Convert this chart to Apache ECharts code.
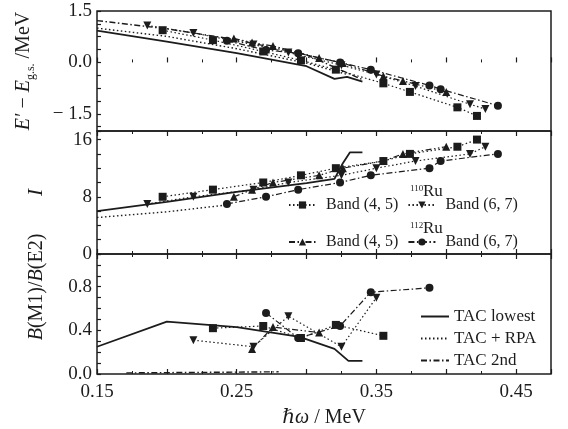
<!DOCTYPE html>
<html>
<head>
<meta charset="utf-8">
<script src="https://cdn.jsdelivr.net/npm/echarts@6/dist/echarts.min.js"></script>
<style>
  html, body { margin: 0; padding: 0; background: #fff; }
  #chart { width: 568px; height: 429px; }
</style>
</head>
<body>
<div id="chart"></div>
<script>
// ---- x tick labels (rotational frequency, MeV) ----
const xTickLabels = [0.15, 0.25, 0.35, 0.45];

// ---- 110Ru Band (4, 5) ----
const ru110b45W = [0.197, 0.233, 0.269, 0.296, 0.321, 0.355, 0.374, 0.408, 0.422];
const ru110b45E = [0.94, 0.65, 0.32, 0.06, -0.21, -0.61, -0.86, -1.31, -1.56];
const ru110b45I = [8, 9, 10, 11, 12, 13, 14, 15, 16];
const ru110b45BW = [0.233, 0.269, 0.296, 0.321, 0.355];
const ru110b45B = [0.42, 0.44, 0.33, 0.45, 0.35];

// ---- 110Ru Band (6, 7) ----
const ru110b67W = [0.186, 0.219, 0.262, 0.287, 0.325, 0.350, 0.378, 0.417, 0.428];
const ru110b67E = [1.08, 0.86, 0.52, 0.29, -0.08, -0.35, -0.69, -1.22, -1.36];
const ru110b67I = [7, 8, 9, 10, 11, 12, 13, 14, 15];
const ru110b67BW = [0.219, 0.262, 0.287, 0.325, 0.350];
const ru110b67B = [0.31, 0.25, 0.53, 0.25, 0.70];

// ---- 112Ru Band (4, 5) ----
const ru112b45W = [0.248, 0.261, 0.276, 0.309, 0.326, 0.355, 0.369, 0.400];
const ru112b45E = [0.70, 0.58, 0.48, 0.13, -0.02, -0.40, -0.54, -0.86];
const ru112b45I = [8, 9, 10, 11, 12, 13, 14, 15];
const ru112b45BW = [0.261, 0.276, 0.309];
const ru112b45B = [0.23, 0.43, 0.38];

// ---- 112Ru Band (6, 7) ----
const ru112b67W = [0.243, 0.271, 0.294, 0.324, 0.346, 0.388, 0.396, 0.437];
const ru112b67E = [0.63, 0.36, 0.27, 0.00, -0.21, -0.67, -0.78, -1.26];
const ru112b67I = [7, 8, 9, 10, 11, 12, 13, 14];
const ru112b67BW = [0.271, 0.294, 0.324, 0.346, 0.388];
const ru112b67B = [0.56, 0.33, 0.44, 0.75, 0.79];

// ---- TAC calculations ----
const tacLowEW = [0.15, 0.20, 0.25, 0.30, 0.32, 0.329, 0.34];
const tacLowE = [0.93, 0.61, 0.27, -0.11, -0.48, -0.42, -0.56];
const tacRpaEW = [0.15, 0.20, 0.25, 0.30, 0.33];
const tacRpaE = [1.00, 0.76, 0.40, -0.02, -0.36];
const tac2ndEW = [0.15, 0.20, 0.25, 0.30, 0.34];
const tac2ndE = [1.22, 0.98, 0.66, 0.22, -0.50];

const tacLowIW = [0.15, 0.20, 0.25, 0.30, 0.32, 0.326, 0.331, 0.34];
const tacLowI = [6.0, 7.3, 8.7, 9.9, 10.5, 12.7, 14.2, 14.2];
const tacRpaIW = [0.15, 0.20, 0.245];
const tacRpaI = [5.1, 5.9, 6.9];

const tacLowBW = [0.15, 0.20, 0.25, 0.295, 0.32, 0.33, 0.34];
const tacLowB = [0.25, 0.48, 0.43, 0.34, 0.23, 0.12, 0.12];
const tac2ndBW = [0.171, 0.28];
const tac2ndB = [0.01, 0.02];

// ---- y tick labels ----
const eTickLabels = [-1.5, 0, 1.5];
const iTickLabels = [0, 8, 16];
const bTickLabels = [0.0, 0.4, 0.8];

const INK = '#1c1c1c';
const SERIF = '"Liberation Serif", "DejaVu Serif", serif';
const DOT = [1.5, 2.5];
const DASHDOT = [6, 2.5, 1.5, 2.5];
const DASHDOTDOT = [6, 2.5, 1.5, 2.5, 1.5, 2.5];
const DOWN_TRI = 'path://M0,0L10,0L5,9Z';

const zip = (xs, ys) => xs.map((x, i) => [x, ys[i]]);

function dataSeries(name, xs, ys, panel, symbol, dash) {
  return {
    name, type: 'line', xAxisIndex: panel, yAxisIndex: panel,
    data: zip(xs, ys), symbol, symbolSize: 8,
    showSymbol: true, animation: false, silent: true,
    lineStyle: { color: INK, width: 1.2, type: dash },
    itemStyle: { color: INK }
  };
}
// calculated curves: no markers, so the legend key shows only the line
function theorySeries(name, xs, ys, panel, dash) {
  return {
    name, type: 'line', xAxisIndex: panel, yAxisIndex: panel,
    data: zip(xs, ys), symbol: 'none', showSymbol: false,
    animation: false, silent: true,
    lineStyle: { color: INK, width: dash === 'solid' ? 1.8 : 1.4, type: dash },
    itemStyle: { color: 'rgba(0,0,0,0)' }
  };
}

const N110a = '110Ru Band (4, 5)';
const N110b = '110Ru Band (6, 7)';
const N112a = '112Ru Band (4, 5)';
const N112b = '112Ru Band (6, 7)';

const series = [
  theorySeries('TAC lowest', tacLowEW, tacLowE, 0, 'solid'),
  theorySeries('TAC + RPA', tacRpaEW, tacRpaE, 0, DOT),
  theorySeries('TAC 2nd', tac2ndEW, tac2ndE, 0, DASHDOT),
  theorySeries('TAC lowest', tacLowIW, tacLowI, 1, 'solid'),
  theorySeries('TAC + RPA', tacRpaIW, tacRpaI, 1, DOT),
  theorySeries('TAC lowest', tacLowBW, tacLowB, 2, 'solid'),
  theorySeries('TAC 2nd', tac2ndBW, tac2ndB, 2, DASHDOT),

  dataSeries(N110a, ru110b45W, ru110b45E, 0, 'rect', DOT),
  dataSeries(N110b, ru110b67W, ru110b67E, 0, DOWN_TRI, DOT),
  dataSeries(N112a, ru112b45W, ru112b45E, 0, 'triangle', DASHDOTDOT),
  dataSeries(N112b, ru112b67W, ru112b67E, 0, 'circle', DASHDOT),

  dataSeries(N110a, ru110b45W, ru110b45I, 1, 'rect', DOT),
  dataSeries(N110b, ru110b67W, ru110b67I, 1, DOWN_TRI, DOT),
  dataSeries(N112a, ru112b45W, ru112b45I, 1, 'triangle', DASHDOTDOT),
  dataSeries(N112b, ru112b67W, ru112b67I, 1, 'circle', DASHDOT),

  dataSeries(N110a, ru110b45BW, ru110b45B, 2, 'rect', DOT),
  dataSeries(N110b, ru110b67BW, ru110b67B, 2, DOWN_TRI, DOT),
  dataSeries(N112a, ru112b45BW, ru112b45B, 2, 'triangle', DASHDOTDOT),
  dataSeries(N112b, ru112b67BW, ru112b67B, 2, 'circle', DASHDOT)
];

const gridBase = { left: 97, right: 17, show: true, borderColor: INK, borderWidth: 1.5 };
const grids = [
  Object.assign({ top: 11, height: 120 }, gridBase),
  Object.assign({ top: 131, height: 123 }, gridBase),
  Object.assign({ top: 254, height: 121 }, gridBase)
];

const isLabelTick = v => xTickLabels.some(t => Math.abs(t - v) < 1e-6);

function xAxisFor(gridIndex, position, withLabels) {
  return {
    type: 'value', gridIndex, position, min: 0.15, max: 0.475, interval: 0.05,
    axisLine: { show: false },
    axisTick: { show: true, inside: true, length: 5, lineStyle: { color: INK, width: 1.2 } },
    minorTick: { show: true, splitNumber: 2, length: 3, lineStyle: { color: INK, width: 1 } },
    splitLine: { show: false },
    axisLabel: {
      show: withLabels, margin: 9, color: INK, fontFamily: SERIF, fontSize: 19,
      formatter: v => isLabelTick(v) ? v.toFixed(2) : ''
    },
    name: withLabels ? '{i|ℏω} / MeV' : '',
    nameLocation: 'middle', nameGap: 34,
    nameTextStyle: {
      color: INK, fontFamily: SERIF, fontSize: 20,
      rich: { i: { fontFamily: SERIF, fontSize: 20, fontStyle: 'italic', color: INK } }
    }
  };
}

const yTickBase = { show: true, inside: true, length: 4, lineStyle: { color: INK, width: 1.2 } };
const yLabelBase = { color: INK, fontFamily: SERIF, fontSize: 19, margin: 5 };
const fmtMinus = v => (v < 0 ? '\u2212 ' : '') + Math.abs(v).toFixed(1);

const yAxes = [
  {
    type: 'value', gridIndex: 0, min: -2, max: 1.5,
    axisLine: { show: false }, splitLine: { show: false },
    axisTick: Object.assign({ customValues: [-1.875, -1.5, -1.125, -0.75, -0.375, 0, 0.375, 0.75, 1.125, 1.5] }, yTickBase),
    axisLabel: Object.assign({ customValues: eTickLabels, formatter: fmtMinus }, yLabelBase),
    name: '{i|E\u2032} \u2212 {i|E}{s|g.s.} /MeV',
    nameLocation: 'middle', nameRotate: 90, nameGap: 60,
    nameTextStyle: {
      color: INK, fontFamily: SERIF, fontSize: 20, lineHeight: 26,
      rich: {
        i: { fontFamily: SERIF, fontSize: 20, fontStyle: 'italic', color: INK, lineHeight: 26 },
        s: { fontFamily: SERIF, fontSize: 12, color: INK, lineHeight: 12, verticalAlign: 'bottom' }
      }
    }
  },
  {
    type: 'value', gridIndex: 1, min: 0, max: 17.2, interval: 2,
    axisLine: { show: false }, splitLine: { show: false },
    axisTick: yTickBase,
    axisLabel: Object.assign({ formatter: v => iTickLabels.includes(v) ? String(v) : '' }, yLabelBase),
    name: 'I', nameLocation: 'middle', nameRotate: 90, nameGap: 50,
    nameTextStyle: { color: INK, fontFamily: SERIF, fontSize: 21, fontStyle: 'italic' }
  },
  {
    type: 'value', gridIndex: 2, min: 0, max: 1.1, interval: 0.1,
    axisLine: { show: false }, splitLine: { show: false },
    axisTick: yTickBase,
    axisLabel: Object.assign({ formatter: v => bTickLabels.some(t => Math.abs(t - v) < 1e-6) ? v.toFixed(1) : '' }, yLabelBase)
  }
];

const legendText = { color: INK, fontFamily: SERIF, fontSize: 16, padding: [0, 0, 0, 5] };
const stripNucleus = name => name.replace(/^\d+Ru /, '');

const option = {
  backgroundColor: '#fff',
  animation: false,
  grid: grids,
  xAxis: [
    xAxisFor(0, 'bottom', false),
    xAxisFor(1, 'bottom', false),
    xAxisFor(2, 'bottom', true),
    xAxisFor(1, 'top', false),
    xAxisFor(2, 'top', false)
  ],
  yAxis: yAxes,
  legend: [
    {
      data: [N110a, N110b], left: 283, top: 192, itemWidth: 27, itemHeight: 9, itemGap: 9,
      formatter: stripNucleus, textStyle: legendText, selectedMode: false
    },
    {
      data: [N112a, N112b], left: 283, top: 229, itemWidth: 27, itemHeight: 9, itemGap: 9,
      formatter: stripNucleus, textStyle: legendText, selectedMode: false
    },
    {
      data: ['TAC lowest', 'TAC + RPA', 'TAC 2nd'], orient: 'vertical', left: 415, top: 303,
      itemWidth: 28, itemHeight: 12, itemGap: 5, selectedMode: false,
      textStyle: { color: INK, fontFamily: SERIF, fontSize: 17, padding: [0, 0, 0, 0] }
    }
  ],
  graphic: [
    { type: 'text', left: 410, top: 184, style: { text: '110', fontFamily: SERIF, fontSize: 9, fill: INK } },
    { type: 'text', left: 423, top: 183, style: { text: 'Ru', fontFamily: SERIF, fontSize: 17, fill: INK } },
    { type: 'text', left: 410, top: 221, style: { text: '112', fontFamily: SERIF, fontSize: 9, fill: INK } },
    { type: 'text', left: 423, top: 220, style: { text: 'Ru', fontFamily: SERIF, fontSize: 17, fill: INK } },
    {
      type: 'text', x: 37, y: 287, rotation: Math.PI / 2,
      style: {
        text: '{i|B}(M1)/{i|B}(E2)', align: 'center', verticalAlign: 'middle',
        fontFamily: SERIF, fontSize: 20, fill: INK,
        rich: { i: { fontFamily: SERIF, fontSize: 20, fontStyle: 'italic', fill: INK } }
      }
    }
  ],
  series
};

const chart = echarts.init(document.getElementById('chart'), null, { renderer: 'canvas' });
chart.setOption(option);
</script>
</body>
</html>
